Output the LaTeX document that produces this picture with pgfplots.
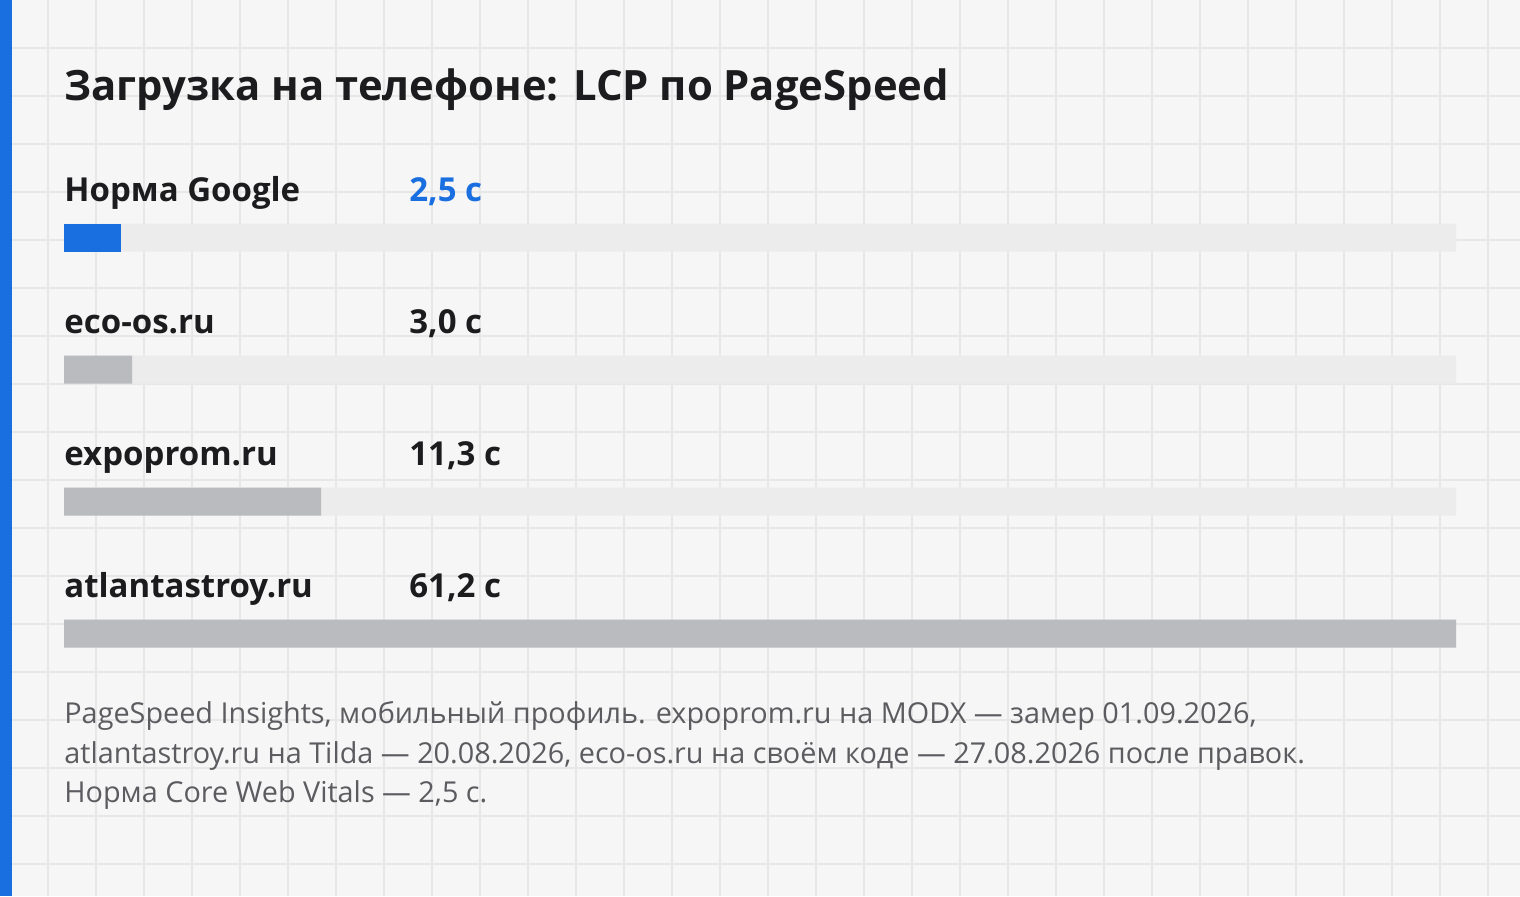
\documentclass[border=0pt]{standalone}
\usepackage{fontspec}
\setmainfont{Open Sans}
\usepackage{pgfplots}
\pgfplotsset{compat=1.18}
\definecolor{bg}{HTML}{F6F6F6}
\definecolor{gridc}{HTML}{E7E7E7}
\definecolor{accent}{HTML}{1A6FE0}
\definecolor{barg}{HTML}{BABBBF}
\definecolor{track}{HTML}{ECECEC}
\definecolor{ink}{HTML}{1C1C1E}
\definecolor{note}{HTML}{5C5C60}
\begin{document}
\begin{tikzpicture}
\begin{axis}[at={(0,0)}, anchor=south west, scale only axis, width=760pt, height=448pt,
  xmin=0, xmax=1520, ymin=0, ymax=896, y dir=reverse,
  axis background/.style={fill=bg}, axis line style={draw=none},
  xtick={48,96,...,1500}, ytick={48,96,...,880}, grid=major,
  major grid style={gridc, line width=1pt},
  xticklabels={}, yticklabels={}, major tick length=0pt]
\fill[accent] (axis cs:0,0) rectangle (axis cs:12,896);
\node[anchor=base west, font=\fontsize{20.9pt}{25pt}\selectfont\bfseries, text=ink, inner sep=0pt] at (axis cs:64,100) {Загрузка на телефоне: LCP по PageSpeed};
\tikzset{lab/.style={anchor=base west, font=\fontsize{16.5pt}{19pt}\selectfont\bfseries, text=ink, inner sep=0pt}}
\node[lab] at (axis cs:64,201) {Норма Google};
\node[lab, text=accent] at (axis cs:409,201) {2,5 с};
\node[lab] at (axis cs:64,333) {eco-os.ru};
\node[lab] at (axis cs:409,333) {3,0 с};
\node[lab] at (axis cs:64,465) {expoprom.ru};
\node[lab] at (axis cs:409,465) {11,3 с};
\node[lab] at (axis cs:64,597) {atlantastroy.ru};
\node[lab] at (axis cs:409,597) {61,2 с};
\tikzset{nt/.style={anchor=base west, font=\fontsize{14.4pt}{17pt}\selectfont, text=note, inner sep=0pt}}
\node[nt] at (axis cs:64,723) {PageSpeed Insights, мобильный профиль. expoprom.ru на MODX — замер 01.09.2026,};
\node[nt] at (axis cs:64,763) {atlantastroy.ru на Tilda — 20.08.2026, eco-os.ru на своём коде — 27.08.2026 после правок.};
\node[nt] at (axis cs:64,802) {Норма Core Web Vitals — 2,5 с.};
\end{axis}
\begin{axis}[at={(32pt,329.25pt)}, anchor=north west, scale only axis, width=696pt, height=198pt,
  xmin=0, xmax=61.2, ymin=0, ymax=3, y dir=reverse, hide axis, clip=false,
  xbar, bar width=14pt, bar shift=0pt]
\addplot[fill=track, draw=none] coordinates {(61.2,0) (61.2,1) (61.2,2) (61.2,3)};
\addplot[fill=accent, draw=none] coordinates {(2.5,0)};
\addplot[fill=barg, draw=none] coordinates {(3.0,1) (11.3,2) (61.2,3)};
\end{axis}
\pgfresetboundingbox
\useasboundingbox (0,0) rectangle (760pt,448pt);
\end{tikzpicture}
\end{document}
